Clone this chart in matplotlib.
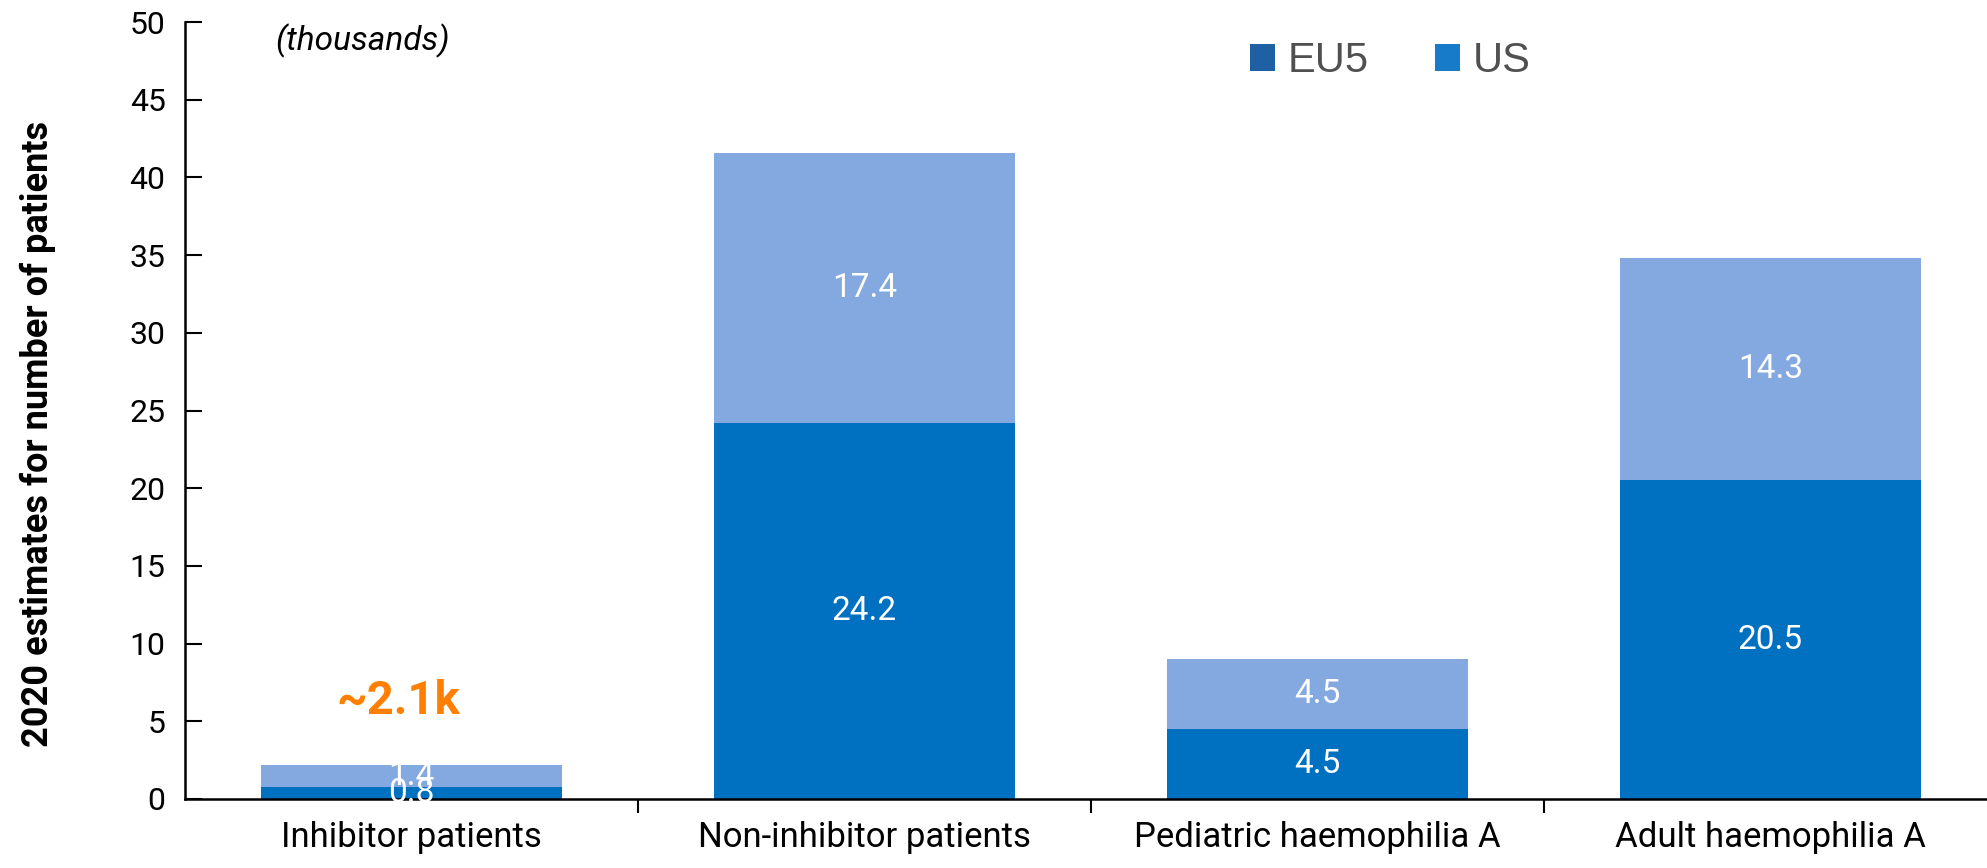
import matplotlib
matplotlib.use("Agg")
import matplotlib.pyplot as plt
from matplotlib.patches import Patch
import numpy as np

plt.rcParams['font.family'] = ['Roboto', 'DejaVu Sans']

categories = ["Inhibitor patients", "Non-inhibitor patients", "Pediatric haemophilia A", "Adult haemophilia A"]
eu5 = [0.8, 24.2, 4.5, 20.5]
us = [1.4, 17.4, 4.5, 14.3]
series_names = ["EU5", "US"]
yticks = [0, 5, 10, 15, 20, 25, 30, 35, 40, 45, 50]
callout = "~2.1k"

c_eu5 = "#0070C0"
c_us = "#84A9E1"

fig = plt.figure(figsize=(19.87, 8.68), dpi=100)
ax = fig.add_axes([185/1987, 69/868, 4*453/1987, 777/868])

x = np.arange(len(categories))
w = 0.665
ax.bar(x, eu5, w, color=c_eu5)
ax.bar(x, us, w, bottom=eu5, color=c_us)

for xi, v in zip(x, eu5):
    ax.text(xi, v/2, f"{v:.1f}", ha="center", va="center", color="white", fontsize=24)
for xi, b, v in zip(x, eu5, us):
    ax.text(xi, b + v/2, f"{v:.1f}", ha="center", va="center", color="white", fontsize=24)

ax.text(-0.03, 6.3, callout, ha="center", va="center", color="#FF8000", fontsize=34, fontweight="bold")
ax.text(-0.3, 48.8, "(thousands)", ha="left", va="center", fontsize=24, style="italic")

ax.set_xlim(-0.5, 3.5)
ax.set_ylim(0, 50)
ax.set_yticks(yticks)
ax.tick_params(axis="y", direction="in", length=12, width=1.5, labelsize=23, pad=14)
ax.set_xticks(x)
ax.set_xticklabels(categories)
ax.tick_params(axis="x", length=0, labelsize=25, pad=16)
ax.set_xticks(np.arange(0.5, 3.6, 1.0), minor=True)
ax.tick_params(axis="x", which="minor", direction="out", length=10, width=1.5)

for s in ["top", "right"]:
    ax.spines[s].set_visible(False)
for s in ["left", "bottom"]:
    ax.spines[s].set_linewidth(1.8)

fig.text(38/1987, 0.5, "2020 estimates for number of patients", rotation=90,
         ha="center", va="center", fontsize=26, fontweight="bold")

handles = [Patch(facecolor="#1F5FA3", label=series_names[0]),
           Patch(facecolor="#177BC9", label=series_names[1])]
leg = ax.legend(handles=handles, loc="center", ncol=2, frameon=False,
                prop={"family": "Liberation Sans", "size": 30},
                handlelength=0.6, handleheight=0.6, handletextpad=0.3, columnspacing=1.6)
leg.set_bbox_to_anchor((1390/1987, 1 - 61/868), transform=fig.transFigure)
for t in leg.get_texts():
    t.set_color("#505050")

fig.savefig("out.png", dpi=100)
